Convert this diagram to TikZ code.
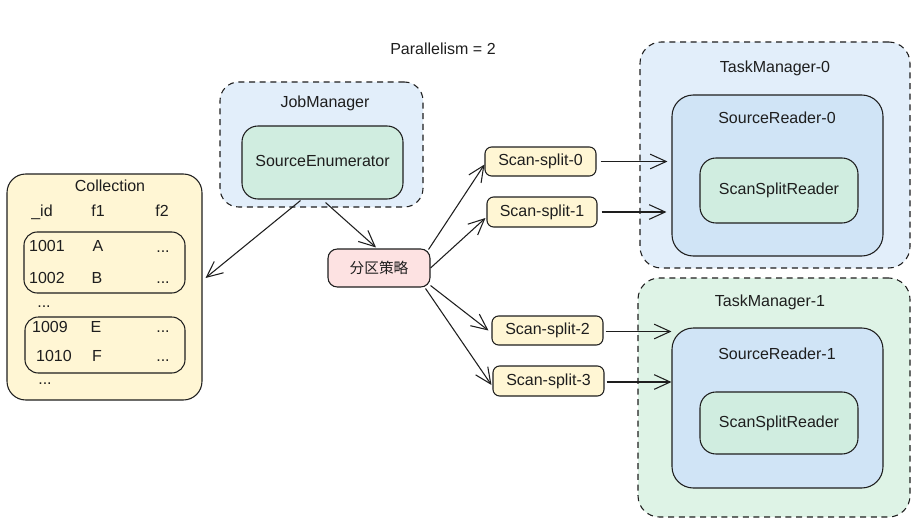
\documentclass[tikz,border=0pt]{standalone}
\usepackage{fontspec}
\setmainfont{Liberation Sans}
\newfontfamily\cjk{Noto Sans CJK SC}
\usetikzlibrary{arrows.meta,fit,calc}
\definecolor{ink}{RGB}{30,30,30}
\definecolor{cyel}{RGB}{255,246,212}
\definecolor{cblue}{RGB}{226,238,250}
\definecolor{cblue2}{RGB}{208,228,246}
\definecolor{cgreen}{RGB}{222,243,230}
\definecolor{cgreen2}{RGB}{208,237,224}
\definecolor{cred}{RGB}{253,226,226}
\begin{document}
\begin{tikzpicture}[x=0.75pt,y=-0.75pt,
  font=\fontsize{12}{14}\selectfont, text=ink,
  box/.style={draw=ink, line width=0.8pt, rounded corners=#1, inner sep=0pt},
  dbox/.style={box=#1, dash pattern=on 4.5pt off 3.5pt},
  arr/.style={draw=ink, line width=0.8pt, -{Straight Barb[length=12pt,width=11pt]}},
  lbl/.style={inner sep=1pt, text height=8.6pt, text depth=2.4pt}]
\useasboundingbox (0,0) rectangle (924,528);

% title
\node[lbl] (par) at (443,50) {Parallelism = 2};

% Collection
\node[box=14pt, fill=cyel, fit={(7,174) (202,400)}] (coll) {};
\node[lbl] (colllbl) at (110,187) {Collection};
\node[lbl] (hid) at (42,212) {\_id};
\node[lbl] (hf1) at (98,212) {f1};
\node[lbl] (hf2) at (162,212) {f2};
\node[box=10pt, fit={(24,232) (185,293)}] (rows1) {};
\node[lbl] (r1a) at (47,247) {1001};
\node[lbl] (r1b) at (98,247) {A};
\node[lbl] (r1c) at (163,248) {...};
\node[lbl] (r2a) at (47,279) {1002};
\node[lbl] (r2b) at (97,279) {B};
\node[lbl] (r2c) at (163,279) {...};
\node[lbl] (gap1) at (44,303) {...};
\node[box=10pt, fit={(25,317) (185,373)}] (rows2) {};
\node[lbl] (r3a) at (50,328) {1009};
\node[lbl] (r3b) at (96,328) {E};
\node[lbl] (r3c) at (163,328) {...};
\node[lbl] (r4a) at (54,357) {1010};
\node[lbl] (r4b) at (97,357) {F};
\node[lbl] (r4c) at (163,357) {...};
\node[lbl] (gap2) at (45,380) {...};

% JobManager
\node[dbox=14pt, fill=cblue, fit={(220,82) (423,207)}] (jm) {};
\node[lbl] (jmlbl) at (325,103) {JobManager};
\node[box=12pt, fill=cgreen2, fit={(242,126) (403,199)}] (se) {};
\node[lbl] (selbl) at (se.center) {SourceEnumerator};

% partition strategy
\node[box=7pt, fill=cred, fit={(328,249) (430,287)}] (fq) {};
\node[inner sep=1pt, font=\cjk\fontsize{11}{13}\selectfont] (fqlbl) at (fq.center) {分区策略};

% splits
\node[box=5pt, fill=cyel, fit={(485,147) (596,176)}] (s0) {};
\node[lbl] (s0lbl) at (s0.center) {Scan-split-0};
\node[box=5pt, fill=cyel, fit={(487,197) (597,227)}] (s1) {};
\node[lbl] (s1lbl) at (s1.center) {Scan-split-1};
\node[box=5pt, fill=cyel, fit={(492,316) (603,345)}] (s2) {};
\node[lbl] (s2lbl) at (s2.center) {Scan-split-2};
\node[box=5pt, fill=cyel, fit={(493,366) (604,396)}] (s3) {};
\node[lbl] (s3lbl) at (s3.center) {Scan-split-3};

% TaskManager-0
\node[dbox=16pt, fill=cblue, fit={(640,42) (910,268)}] (tm0) {};
\node[lbl] (tm0lbl) at (775,68) {TaskManager-0};
\node[box=16pt, fill=cblue2, fit={(672,95) (883,256)}] (sr0) {};
\node[lbl] (sr0lbl) at (777,119) {SourceReader-0};
\node[box=12pt, fill=cgreen2, fit={(700,158) (858,223)}] (ssr0) {};
\node[lbl] (ssr0lbl) at (ssr0.center) {ScanSplitReader};

% TaskManager-1
\node[dbox=16pt, fill=cgreen, fit={(638,278) (910,517)}] (tm1) {};
\node[lbl] (tm1lbl) at (770,302) {TaskManager-1};
\node[box=16pt, fill=cblue2, fit={(672,328) (883,488)}] (sr1) {};
\node[lbl] (sr1lbl) at (777,355) {SourceReader-1};
\node[box=12pt, fill=cgreen2, fit={(700,392) (858,454)}] (ssr1) {};
\node[lbl] (ssr1lbl) at (ssr1.center) {ScanSplitReader};

% connectors
\draw[arr] ([shift={(-22,1)}]se.south) -- ([shift={(3,-9)}]coll.east);
\draw[arr] ([shift={(3,3)}]se.south) -- ([shift={(-3,-1)}]fq.north);

\draw[arr] ([shift={(-2,1)}]fq.north east) -- ([shift={(0,3)}]s0.west);
\draw[arr] (fq.east) -- ([shift={(-1,6)}]s1.west);
\draw[arr] ([shift={(0,-2)}]fq.south east) -- ([shift={(-3,0)}]s2.west);
\draw[arr] ([shift={(-5,1)}]fq.south east) -- ([shift={(-1,4)}]s3.west);

\draw[arr] ([shift={(4,0)}]s0.east) -- ($(sr0.west |- s0.east)+(-4,0)$);
\draw[arr] ([shift={(4,0)}]s1.east) -- ($(sr0.west |- s1.east)+(-5,0)$);
\draw[arr] ([shift={(2,1)}]s2.east) -- ($(sr1.west |- s2.east)+(0,1)$);
\draw[arr] ([shift={(2,1)}]s3.east) -- ($(sr1.west |- s3.east)+(0,1)$);
\end{tikzpicture}
\end{document}
